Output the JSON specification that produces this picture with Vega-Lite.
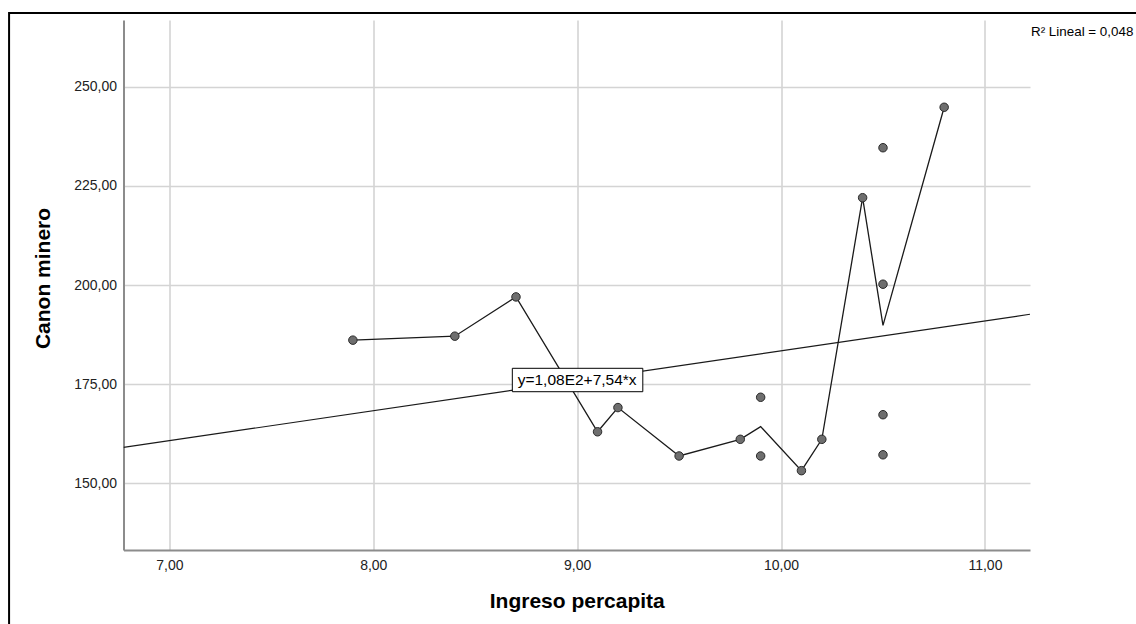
{
  "$schema": "https://vega.github.io/schema/vega-lite/v6.json",
  "autosize": {"type": "none"},
  "padding": {"left": 123.5, "top": 20, "right": 106, "bottom": 74},
  "width": 906.5,
  "height": 530,
  "background": "white",
  "config": {
    "view": {"stroke": null},
    "font": "Liberation Sans",
    "axis": {
      "grid": true,
      "domainColor": "#8c8c8c",
      "domainWidth": 2,
      "gridColor": "#d4d4d4",
      "gridWidth": 1.6,
      "gridOpacity": 1,
      "ticks": false,
      "labelFont": "Liberation Sans",
      "labelFontSize": 14,
      "labelColor": "#222222",
      "titleFont": "Liberation Sans",
      "titleFontSize": 21,
      "titleFontWeight": "bold",
      "titleColor": "#000000"
    }
  },
  "datasets": {
    "pts": [
      {"ingreso": 7.9, "canon": 186.1},
      {"ingreso": 8.4, "canon": 187.1},
      {"ingreso": 8.7, "canon": 197.0},
      {"ingreso": 9.1, "canon": 163.0},
      {"ingreso": 9.2, "canon": 169.1},
      {"ingreso": 9.5, "canon": 156.9},
      {"ingreso": 9.8, "canon": 161.1},
      {"ingreso": 9.9, "canon": 171.7},
      {"ingreso": 9.9, "canon": 156.9},
      {"ingreso": 10.1, "canon": 153.2},
      {"ingreso": 10.2, "canon": 161.1},
      {"ingreso": 10.4, "canon": 222.0},
      {"ingreso": 10.5, "canon": 234.6},
      {"ingreso": 10.5, "canon": 200.2},
      {"ingreso": 10.5, "canon": 167.3},
      {"ingreso": 10.5, "canon": 157.2},
      {"ingreso": 10.8, "canon": 244.8}
    ],
    "fit": [
      {"ingreso": 6.775, "canon": 159.08},
      {"ingreso": 11.221, "canon": 192.61}
    ]
  },
  "layer": [
    {
      "data": {"values": [{}]},
      "mark": {"type": "rect", "fill": null, "stroke": "#000000", "strokeWidth": 2, "clip": false},
      "encoding": {
        "x": {"datum": 6.2138, "type": "quantitative", "scale": {"domain": [6.775, 11.221], "nice": false, "zero": false},
          "axis": {"grid": true, "values": [7, 8, 9, 10, 11], "labelExpr": "replace(format(datum.value, '.2f'), '.', ',')", "labelPadding": 8, "title": "Ingreso percapita", "titleX": 453.25, "titleY": 57.3, "titleAnchor": null, "titleAlign": "center", "titleBaseline": "alphabetic"}},
        "x2": {"datum": 12.5},
        "y": {"datum": 268.58, "type": "quantitative", "scale": {"domain": [133.2, 266.8], "nice": false, "zero": false},
          "axis": {"grid": true, "values": [150, 175, 200, 225, 250], "labelExpr": "replace(format(datum.value, '.2f'), '.', ',')", "labelPadding": 7, "title": "Canon minero", "titleX": -80.5, "titleY": 258, "titleAngle": -90, "titleAlign": "center", "titleBaseline": "middle"}},
        "y2": {"datum": 90}
      }
    },
    {
      "data": {"name": "fit"},
      "mark": {"type": "line", "color": "#1a1a1a", "strokeWidth": 1.1, "clip": true},
      "encoding": {
        "x": {"field": "ingreso", "type": "quantitative"},
        "y": {"field": "canon", "type": "quantitative"}
      }
    },
    {
      "data": {"name": "pts"},
      "mark": {"type": "line", "color": "#1a1a1a", "strokeWidth": 1.3},
      "encoding": {
        "x": {"field": "ingreso", "type": "quantitative"},
        "y": {"field": "canon", "type": "quantitative", "aggregate": "mean"}
      }
    },
    {
      "data": {"name": "pts"},
      "mark": {"type": "point", "shape": "circle", "filled": true, "fill": "#6e6e6e", "stroke": "#2a2a2a", "strokeWidth": 1, "size": 72, "opacity": 1},
      "encoding": {
        "x": {"field": "ingreso", "type": "quantitative"},
        "y": {"field": "canon", "type": "quantitative"}
      }
    },
    {
      "data": {"values": [{}]},
      "mark": {"type": "rect", "fill": "white", "stroke": "#000000", "strokeWidth": 1},
      "encoding": {
        "x": {"datum": 8.682, "type": "quantitative"},
        "x2": {"datum": 9.322},
        "y": {"datum": 179.0, "type": "quantitative"},
        "y2": {"datum": 173.1}
      }
    },
    {
      "data": {"values": [{"label": "y=1,08E2+7,54*x"}]},
      "mark": {"type": "text", "font": "Liberation Sans", "fontSize": 15.5, "color": "#000000", "align": "center", "baseline": "middle"},
      "encoding": {
        "x": {"datum": 9.0, "type": "quantitative"},
        "y": {"datum": 176.0, "type": "quantitative"},
        "text": {"field": "label"}
      }
    },
    {
      "data": {"values": [{"label": "R² Lineal = 0,048"}]},
      "mark": {"type": "text", "font": "Liberation Sans", "fontSize": 13.4, "color": "#000000", "align": "left", "baseline": "alphabetic", "clip": false},
      "encoding": {
        "x": {"datum": 11.226, "type": "quantitative"},
        "y": {"datum": 262.8, "type": "quantitative"},
        "text": {"field": "label"}
      }
    }
  ]
}
